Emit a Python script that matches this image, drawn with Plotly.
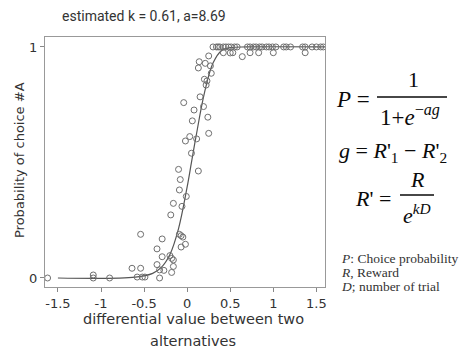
import plotly.graph_objects as go

# ---- data ----
obs_x = [0.30, 0.34, 0.36, 0.38, 0.42, 0.45, 0.48, 0.51, 0.55, 0.58, 0.70, 0.73, 0.77, 0.80,
         0.84, 0.87, 0.92, 0.95, 0.99, 1.03, 1.12, 1.15, 1.20, 1.34, 1.37, 1.45, 1.50, 1.55, 1.58,
         0.42, 0.50, 0.53, 0.64, 0.73, 0.83, 1.00, 1.37,
         0.25, 0.14, 0.21, 0.13, 0.27, 0.28, 0.20, 0.23, 0.22, 0.15, -0.04, 0.19, 0.08, 0.24,
         0.06, 0.25, 0.03, 0.11, -0.02, 0.05, -0.10, 0.13, -0.08, -0.09, -0.01, -0.16, -0.06,
         -0.19, -0.09, -0.07, -0.05, -0.54, -0.29, -0.02, -0.07, -0.35, -0.20, -0.18, -0.16,
         -0.29, -0.35, -0.16, -0.64, -0.54, -0.32, -0.27, -0.18, -0.58, -0.52, -0.49, -0.32,
         -1.09, -1.09, -0.90, -1.62]
obs_p = [1.0, 1.0, 1.0, 1.0, 1.0, 1.0, 1.0, 1.0, 1.0, 1.0, 1.0, 1.0, 1.0, 1.0,
         1.0, 1.0, 1.0, 1.0, 1.0, 1.0, 1.0, 1.0, 1.0, 1.0, 1.0, 1.0, 1.0, 1.0, 1.0,
         0.975, 0.974, 0.975, 0.958, 0.975, 0.975, 0.975, 0.975,
         0.961, 0.936, 0.929, 0.909, 0.918, 0.886, 0.860, 0.853, 0.835, 0.784, 0.759, 0.742, 0.727, 0.696,
         0.680, 0.626, 0.612, 0.602, 0.593, 0.540, 0.470, 0.463, 0.426, 0.381, 0.353, 0.323, 0.310,
         0.273, 0.189, 0.183, 0.177, 0.189, 0.169, 0.146, 0.134, 0.126, 0.097, 0.085, 0.078,
         0.092, 0.058, 0.050, 0.042, 0.042, 0.035, 0.033, 0.024, 0.004, 0.004, 0.004, 0.0,
         0.013, 0.0, 0.0, 0.0]

fit_x = [-1.5, -0.6, -0.4, -0.3, -0.2, -0.1, 0.0, 0.05, 0.1, 0.2, 0.3, 0.4, 0.5, 0.7, 1.6]
fit_p = [0.0, 0.004, 0.02, 0.046, 0.102, 0.214, 0.394, 0.5, 0.606, 0.80, 0.93, 0.985, 0.997, 1.0, 1.0]

x_ticks = [-1.5, -1, -0.5, 0, 0.5, 1, 1.5]
x_tick_labels = ["-1.5", "-1", "-0.5", "0", "0.5", "1", "1.5"]
y_ticks = [0, 1]
y_tick_labels = ["0", "1"]

title_text = "estimated k = 0.61, a=8.69"
x_title_lines = ["differential value between two", "alternatives"]
y_title = "Probability of choice #A"
notes = ["<i>P</i>: Choice probability", "<i>R</i>, Reward", "<i>D</i>; number of trial"]

# ---- layout geometry (picture pixels; page body adds an 8px offset) ----
W, H = 467, 355
OFF = 8
PL, PT, PR, PB = 45, 37, 325, 287          # plot box as seen in the picture
L, T = PL - OFF, PT - OFF
PW, PH = PR - PL, PB - PT
R = W - L - PW
B = H - T - PH


def px(x):
    return (x - PL) / PW


def py(y):
    return (PB - y) / PH


fig = go.Figure()
fig.add_trace(go.Scatter(x=fit_x, y=fit_p, mode="lines",
                         line=dict(color="#555555", width=1.2, shape="spline"),
                         hoverinfo="skip", showlegend=False))
fig.add_trace(go.Scatter(x=obs_x, y=obs_p, mode="markers",
                         marker=dict(symbol="circle-open", size=6, color="#6f6f6f",
                                     line=dict(width=1, color="#6f6f6f")),
                         showlegend=False))

axis_font = dict(family="DejaVu Sans", size=13, color="#333333")
fig.update_layout(
    width=W, height=H, margin=dict(l=L, r=R, t=T, b=B, autoexpand=False),
    paper_bgcolor="white", plot_bgcolor="white",
    xaxis=dict(range=[-1.65, 1.6], tickvals=x_ticks, ticktext=x_tick_labels, ticks="outside", ticklen=4,
               tickcolor="#888888", showgrid=False, zeroline=False, showline=True, linecolor="#999999",
               mirror=True, tickfont=axis_font),
    yaxis=dict(range=[-0.039, 1.043], tickvals=y_ticks, ticktext=y_tick_labels, ticks="outside", ticklen=4,
               tickcolor="#888888", showgrid=False, zeroline=False, showline=True, linecolor="#999999",
               mirror=True, tickfont=axis_font),
)

ann = []
ann.append(dict(x=px(60), y=py(16), xref="paper", yref="paper", text=title_text, showarrow=False,
                xanchor="left", yanchor="middle", font=dict(family="Roboto", size=14, color="#333333")))
for i, t in enumerate(x_title_lines):
    ann.append(dict(x=px(193), y=py(319 + 22 * i), xref="paper", yref="paper", text=t, showarrow=False,
                    xanchor="center", yanchor="middle",
                    font=dict(family="DejaVu Sans", size=14.5, color="#333333")))
ann.append(dict(x=px(19), y=py(160), xref="paper", yref="paper", text=y_title, showarrow=False,
                textangle=-90, xanchor="center", yanchor="middle",
                font=dict(family="DejaVu Sans", size=13, color="#333333")))

serif = "Liberation Serif"
eq_col = "#0a0a0a"
# Equation 1
ann.append(dict(x=px(353), y=py(99), xref="paper", yref="paper", text="<i>P</i> =", showarrow=False,
                xanchor="center", yanchor="middle", font=dict(family=serif, size=23, color=eq_col)))
ann.append(dict(x=px(413), y=py(79), xref="paper", yref="paper", text="1", showarrow=False,
                xanchor="center", yanchor="middle", font=dict(family=serif, size=22, color=eq_col)))
ann.append(dict(x=px(410), y=py(115), xref="paper", yref="paper",
                text="1+<i>e</i><sup>−<i>ag</i></sup>", showarrow=False,
                xanchor="center", yanchor="middle", font=dict(family=serif, size=23, color=eq_col)))
# Equation 2
ann.append(dict(x=px(393), y=py(152), xref="paper", yref="paper",
                text="<i>g</i> = <i>R</i>'<sub>1</sub> − <i>R</i>'<sub>2</sub>", showarrow=False,
                xanchor="center", yanchor="middle", font=dict(family=serif, size=22, color=eq_col)))
# Equation 3
ann.append(dict(x=px(373), y=py(198), xref="paper", yref="paper", text="<i>R</i>' =", showarrow=False,
                xanchor="center", yanchor="middle", font=dict(family=serif, size=22, color=eq_col)))
ann.append(dict(x=px(417), y=py(179), xref="paper", yref="paper", text="<i>R</i>", showarrow=False,
                xanchor="center", yanchor="middle", font=dict(family=serif, size=22, color=eq_col)))
ann.append(dict(x=px(417), y=py(214), xref="paper", yref="paper", text="<i>e</i><sup><i>kD</i></sup>",
                showarrow=False, xanchor="center", yanchor="middle",
                font=dict(family=serif, size=22, color=eq_col)))
# Notes
for i, t in enumerate(notes):
    ann.append(dict(x=px(339), y=py(258 + 14 * i), xref="paper", yref="paper", text=t, showarrow=False,
                    xanchor="left", yanchor="middle", font=dict(family=serif, size=13.5, color="#333333")))
fig.update_layout(annotations=ann)

shapes = [
    dict(type="line", xref="paper", yref="paper", x0=px(377), x1=px(447), y0=py(97), y1=py(97),
         line=dict(color=eq_col, width=1.5)),
    dict(type="line", xref="paper", yref="paper", x0=px(400), x1=px(434), y0=py(195), y1=py(195),
         line=dict(color=eq_col, width=1.5)),
]
fig.update_layout(shapes=shapes)

fig.write_html("out.html")
